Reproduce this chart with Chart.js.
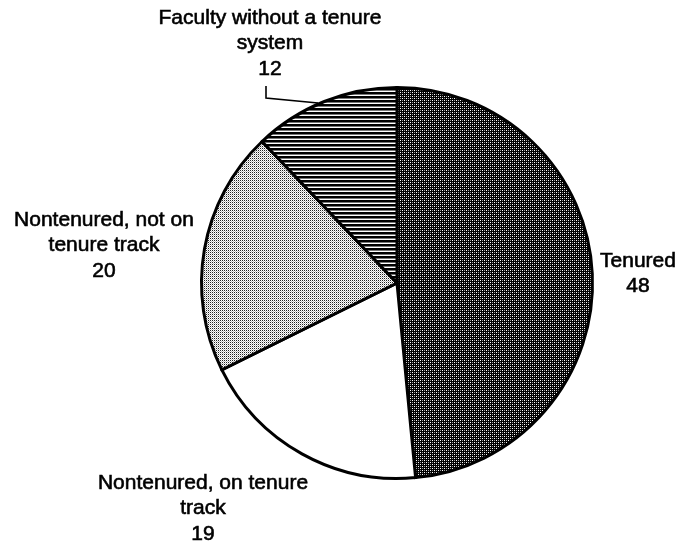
<!DOCTYPE html>
<html>
<head>
<meta charset="utf-8">
<script src="https://cdn.jsdelivr.net/npm/chart.js@4.4.1/dist/chart.umd.min.js"></script>
<style>
  html, body { margin: 0; padding: 0; background: #fff; }
  #wrap { width: 678px; height: 544px; position: relative; }
</style>
</head>
<body>
<div id="wrap"><canvas id="c" width="678" height="544"></canvas></div>
<script>
// ---- data ----
const categories = ["Tenured", "Nontenured, on tenure track", "Nontenured, not on tenure track", "Faculty without a tenure system"];
const values = [48, 19, 20, 12];
const labelLines = [
  ["Tenured", "48"],
  ["Nontenured, on tenure", "track", "19"],
  ["Nontenured, not on", "tenure track", "20"],
  ["Faculty without a tenure", "system", "12"]
];

// ---- layout (positions of the annotation text, px) ----
const labelPos = [
  { x: 638, y: 261 },
  { x: 203, y: 483 },
  { x: 104, y: 220 },
  { x: 270, y: 18 }
];
const lineGap = 25.5;
const leader = [[266, 86], [266, 98], [318, 103]];

// ---- patterns ----
function makePattern(w, h, draw) {
  const t = document.createElement('canvas');
  t.width = w; t.height = h;
  const g = t.getContext('2d');
  draw(g);
  return document.getElementById('c').getContext('2d').createPattern(t, 'repeat');
}
const patTenured = makePattern(4, 4, g => {
  g.fillStyle = '#000'; g.fillRect(0, 0, 4, 4);
  g.fillStyle = '#fff';
  g.fillRect(0, 0, 1, 1);
  g.fillRect(2, 2, 1, 1);
  g.fillStyle = '#9a9a9a';
  g.fillRect(2, 0, 1, 1);
  g.fillRect(0, 2, 1, 1);
});
const patStripes = makePattern(4, 4, g => {
  g.fillStyle = '#fff'; g.fillRect(0, 0, 4, 4);
  g.fillStyle = '#000'; g.fillRect(0, 0, 4, 2);
  g.fillStyle = '#777'; g.fillRect(0, 2, 4, 1);
});
const patStipple = makePattern(2, 2, g => {
  g.fillStyle = '#fff'; g.fillRect(0, 0, 2, 2);
  g.fillStyle = '#222'; g.fillRect(0, 0, 1, 1);
  g.fillStyle = '#bbb'; g.fillRect(1, 1, 1, 1);
});
const fills = [patTenured, '#ffffff', patStipple, patStripes];

const labelPlugin = {
  id: 'labels',
  afterDraw(chart) {
    const ctx = chart.ctx;
    ctx.save();
    ctx.fillStyle = '#000';
    ctx.strokeStyle = '#000';
    ctx.font = '21px "Liberation Sans", Arial, sans-serif';
    ctx.textAlign = 'center';
    ctx.textBaseline = 'middle';
    ctx.lineWidth = 0.6;
    labelLines.forEach((lines, i) => {
      lines.forEach((s, j) => {
        const y = labelPos[i].y + j * lineGap;
        ctx.fillText(s, labelPos[i].x, y);
        ctx.strokeText(s, labelPos[i].x, y);
      });
    });
    ctx.lineWidth = 1.6;
    ctx.beginPath();
    ctx.moveTo(leader[0][0], leader[0][1]);
    for (let k = 1; k < leader.length; k++) ctx.lineTo(leader[k][0], leader[k][1]);
    ctx.stroke();
    ctx.restore();
  }
};

new Chart(document.getElementById('c'), {
  type: 'pie',
  data: {
    labels: categories,
    datasets: [{
      data: values,
      backgroundColor: fills,
      borderColor: '#000',
      borderWidth: 3,
      hoverBorderWidth: 3,
      borderJoinStyle: 'miter'
    }]
  },
  options: {
    responsive: false,
    animation: false,
    layout: { padding: { left: 150, right: 34, top: 86, bottom: 64 } },
    plugins: {
      legend: { display: false },
      tooltip: { enabled: false }
    }
  },
  plugins: [labelPlugin]
});
</script>
</body>
</html>
